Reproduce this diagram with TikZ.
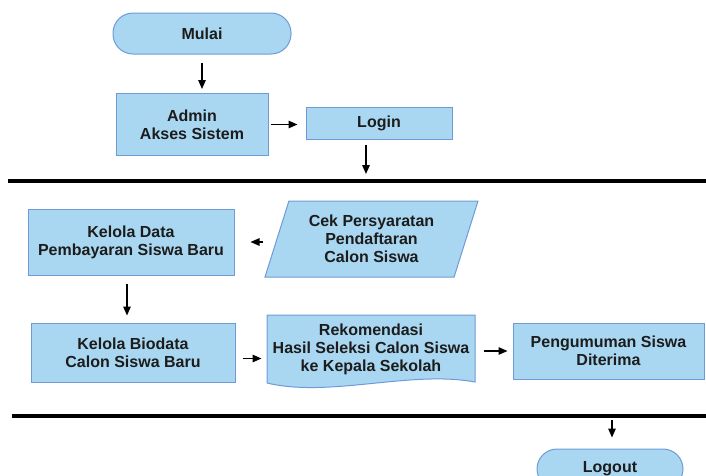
\documentclass[tikz,border=0pt]{standalone}
\usepackage{fontspec}
\setmainfont{Liberation Sans}
\usetikzlibrary{positioning,shapes.geometric,arrows.meta}
\definecolor{boxfill}{HTML}{A9D7F1}
\definecolor{boxline}{HTML}{6E9BD6}
\definecolor{txt}{HTML}{1C1C1C}
\tikzset{
	box/.style={rectangle, draw=boxline, fill=boxfill, line width=1pt, inner sep=0pt, align=center, text=txt, font=\bfseries\fontsize{16}{18}\selectfont},
	term/.style={box, rounded corners=20pt},
	io/.style={box, trapezium, trapezium left angle=63.4, trapezium right angle=116.6, trapezium stretches body},
	arr/.style={-{Triangle[length=9pt,width=7.5pt]}, line width=1.4pt},
	lane/.style={line width=4.5pt}
}
\begin{document}
\begin{tikzpicture}[x=1pt, y=-1pt]
				\clip (0,0) rectangle (706,475);
				\node[term, minimum width=178pt, minimum height=41pt] (Mulai) at (202,33.5) {Mulai};
				\node[box, minimum width=152pt, minimum height=62pt] (Admin) at (192,124.5) {Admin\\Akses Sistem};
				\node[box, minimum width=146pt, minimum height=32pt] (Login) at (379,123) {Login};
				\coordinate (L1a) at (8,181);
				\coordinate (L1b) at (706,181);
				\node[box, minimum width=206pt, minimum height=66pt] (Bayar) at (131,242) {Kelola Data\\Pembayaran Siswa Baru};
				\node[io, minimum width=213pt, minimum height=76pt] (Cek) at (371.5,239) {Cek Persyaratan\\Pendaftaran\\Calon Siswa};
				\node[box, minimum width=204pt, minimum height=59pt] (Biodata) at (133,352.5) {Kelola Biodata\\Calon Siswa Baru};
				\draw[draw=boxline, fill=boxfill, line width=1pt] (267,315) -- (475,315) -- (475,382) .. controls (410,370) and (330,398) .. (267,383) -- cycle;
				\node[box, draw=none, fill=none, minimum width=208pt, minimum height=68pt] (Rekom) at (371,349) {Rekomendasi\\Hasil Seleksi Calon Siswa\\ke Kepala Sekolah};
				\node[box, minimum width=191pt, minimum height=56pt] (Umum) at (608.5,351) {Pengumuman Siswa\\Diterima};
				\coordinate (L2a) at (12,416);
				\coordinate (L2b) at (706,416);
				\node[term, minimum width=146pt, minimum height=40pt] (Logout) at (610,469) {Logout};
				\draw[lane] (L1a) -- (L1b);
				\draw[lane] (L2a) -- (L2b);
				\draw[arr, shorten <=8pt, shorten >=4pt] (Mulai.south) -- (Mulai.south |- Admin.north);
				\draw[arr, shorten <=2pt, shorten >=8pt] (Admin.east) -- (Admin.east -| Login.west);
				\draw[arr, shorten <=5pt, shorten >=7pt] ([xshift=-13pt]Login.south) -- ([xshift=-13pt]Login.south |- L1a);
				\draw[arr, shorten <=13pt, shorten >=16pt] ([yshift=-3pt]Cek.west) -- ([yshift=-3pt]Cek.west -| Bayar.east);
				\draw[arr, shorten <=8pt, shorten >=7pt] ([xshift=-4pt]Bayar.south) -- ([xshift=-4pt]Bayar.south |- Biodata.north);
				\draw[arr, shorten <=7pt, shorten >=5pt] ([yshift=-6pt]Biodata.east) -- ([yshift=-6pt]Biodata.east -| Rekom.west);
				\draw[arr, shorten <=8pt, shorten >=5pt] (Rekom.east |- Umum.west) -- (Umum.west);
				\draw[arr, shorten <=4pt, shorten >=11pt] ([xshift=2pt]Logout.north |- L2a) -- ([xshift=2pt]Logout.north);
			\end{tikzpicture}
\end{document}
